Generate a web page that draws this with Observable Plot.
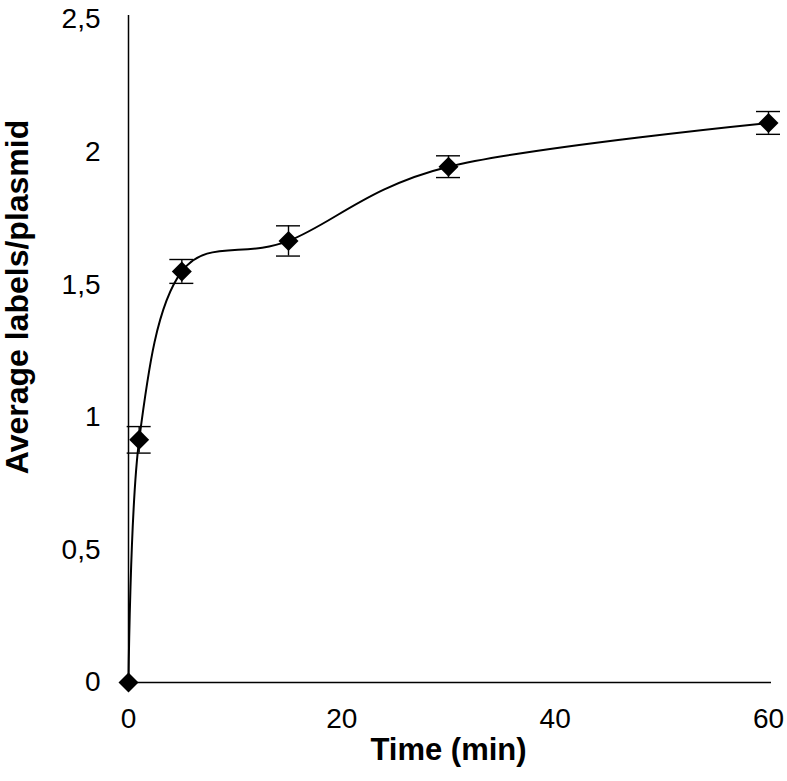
<!DOCTYPE html>
<html>
<head>
<meta charset="utf-8">
<script src="https://cdn.jsdelivr.net/npm/d3@7"></script>
<script src="https://cdn.jsdelivr.net/npm/@observablehq/plot@0.6"></script>
<style>
  html, body { margin: 0; padding: 0; background: #fff; }
  #chart svg { display: block; }
</style>
</head>
<body>
<div id="chart"></div>
<script>
// Data
const times = [0, 1, 5, 15, 30, 60];
const avgLabels = [0, 0.915, 1.55, 1.665, 1.945, 2.11];
const errors = [0, 0.05, 0.045, 0.057, 0.041, 0.043];
const xTicks = [0, 20, 40, 60];
const yTicks = [0, 0.5, 1, 1.5, 2, 2.5];
const xLabel = "Time (min)";
const yLabel = "Average labels/plasmid";

const data = times.map((t, i) => ({t, v: avgLabels[i], lo: avgLabels[i] - errors[i], hi: avgLabels[i] + errors[i], e: errors[i]}));
const withErr = data.filter(d => d.e > 0);
const fmt = d => String(d).replace(".", ",");

const chart = Plot.plot({
  width: 787,
  height: 781,
  marginLeft: 128,
  marginRight: 19,
  marginTop: 19,
  marginBottom: 99,
  style: {fontFamily: "'Liberation Sans', Arial, sans-serif", fontSize: "28px", color: "#000", background: "#fff"},
  x: {domain: [0, 60]},
  y: {domain: [0, 2.5]},
  marks: [
    Plot.axisX({ticks: xTicks, tickSize: 0, tickPadding: 26, tickFormat: d => d, label: null, fontSize: 28}),
    Plot.axisY({ticks: yTicks, tickSize: 0, tickPadding: 28, tickFormat: fmt, label: null, fontSize: 28}),
    Plot.ruleY([0], {stroke: "#000", strokeWidth: 1.5, insetRight: -3}),
    Plot.ruleX([0], {stroke: "#000", strokeWidth: 1.5, insetTop: -4}),
    Plot.ruleX(withErr, {x: "t", y1: "lo", y2: "hi", stroke: "#000", strokeWidth: 1.4}),
    Plot.ruleY(withErr, {y: "lo", x1: "t", x2: "t", insetLeft: -12, insetRight: -12, stroke: "#000", strokeWidth: 1.4}),
    Plot.ruleY(withErr, {y: "hi", x1: "t", x2: "t", insetLeft: -12, insetRight: -12, stroke: "#000", strokeWidth: 1.4}),
    Plot.line(data, {x: "t", y: "v", curve: "cardinal", stroke: "#000", strokeWidth: 2}),
    Plot.dot(data, {x: "t", y: "v", symbol: "diamond2", r: 9, fill: "#000", stroke: "none"}),
    Plot.text([xLabel], {frameAnchor: "bottom", dy: 77, fontWeight: "bold", fontSize: 31, textAnchor: "middle"}),
    Plot.text([yLabel], {frameAnchor: "left", rotate: -90, dx: -111, dy: -54, fontWeight: "bold", fontSize: 32, textAnchor: "middle"})
  ]
});
document.getElementById("chart").appendChild(chart);
</script>
</body>
</html>
